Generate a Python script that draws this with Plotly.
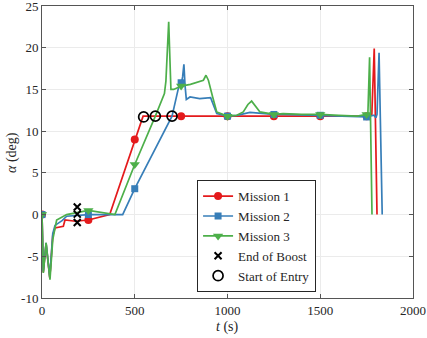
import plotly.graph_objects as go

# Mission 1 angle of attack history
t_m1 = [0, 3, 7, 22, 42, 58, 70, 115, 124, 180, 250, 365, 500, 545, 750, 1000, 1250,
        1500, 1750, 1778, 1791, 1806]
a_m1 = [0, -3.0, -6.9, -3.5, -7.6, -2.5, -1.6, -1.4, -0.65, -0.8, -0.65, 0, 9.0, 11.8,
        11.8, 11.8, 11.8, 11.8, 11.8, 12.0, 19.9, 0]

# Mission 2
t_m2 = [0, 3, 7, 22, 42, 58, 70, 110, 133, 250, 435, 500, 701, 740, 752, 758, 765, 771,
        778, 798, 850, 909, 942, 1000, 1050, 1121, 1200, 1250, 1300, 1500, 1700, 1750,
        1790, 1800, 1806, 1817, 1834]
a_m2 = [0, -3.0, -6.8, -3.4, -7.5, -2.3, -1.3, -0.7, -0.2, 0, 0, 3.1, 11.8, 15.6, 15.8,
        16.5, 18.0, 15.5, 13.8, 14.1, 13.9, 14.0, 12.1, 11.8, 11.9, 12.25, 12.1, 12.0,
        12.0, 11.9, 11.8, 11.7, 11.9, 11.6, 12.0, 19.4, 0]

# Mission 3
t_m3 = [0, 3, 7, 22, 43, 58, 70, 79, 133, 187, 250, 393, 500, 611, 660, 668, 676, 683,
        689, 695, 710, 750, 800, 870, 884, 897, 920, 942, 1000, 1050, 1085, 1110, 1130,
        1150, 1175, 1250, 1300, 1400, 1500, 1600, 1700, 1750, 1757, 1766, 1779]
a_m3 = [0, -3.2, -7.0, -3.4, -7.8, -3.0, -1.85, -0.65, 0, 0.25, 0.5, 0, 6.0, 11.8, 14.5,
        16.0, 19.5, 23.1, 19.0, 15.0, 15.0, 15.4, 15.6, 16.1, 16.7, 16.1, 14.1, 12.3,
        11.8, 11.9, 12.3, 13.2, 13.6, 13.0, 12.3, 12.0, 12.1, 12.0, 12.0, 11.9, 11.8,
        12.0, 12.2, 18.85, 0]

# marker samples every 250 s
t_mk = [0, 250, 500, 750, 1000, 1250, 1500, 1750]
mk_m1 = [0, -0.65, 9.0, 11.8, 11.8, 11.8, 11.8, 11.8]
mk_m2 = [0, 0, 3.1, 15.8, 11.8, 12.0, 11.9, 11.7]
mk_m3 = [0, 0.5, 6.0, 15.4, 11.8, 12.0, 12.0, 12.0]

# events
t_boost = [190, 190, 190]
a_boost = [0.9, 0.05, -0.95]
t_entry = [548, 611, 701]
a_entry = [11.7, 11.8, 11.8]

y_ticks = [-10, -5, 0, 5, 10, 15, 20, 25]
y_ticktext = ["-10", "-5", "0", "5", "10", "15", "20", "25"]
x_ticks = [0, 500, 1000, 1500, 2000]

names = ["Mission 1", "Mission 2", "Mission 3"]
colors = ["#e41a1c", "#377eb8", "#4daf4a"]
symbols = ["circle", "square", "triangle-down"]
sizes = [8, 7, 9]
lines_t = [t_m1, t_m2, t_m3]
lines_a = [a_m1, a_m2, a_m3]
marks_a = [mk_m1, mk_m2, mk_m3]

SERIF = "Liberation Serif, Times New Roman, serif"

fig = go.Figure()

for i in range(3):
    fig.add_trace(go.Scatter(x=lines_t[i], y=lines_a[i], mode="lines",
                             line=dict(color=colors[i], width=1.7), showlegend=False))
    fig.add_trace(go.Scatter(x=t_mk, y=marks_a[i], mode="markers",
                             marker=dict(color=colors[i], symbol=symbols[i], size=sizes[i]),
                             showlegend=False))

fig.add_trace(go.Scatter(x=t_boost, y=a_boost, mode="markers", showlegend=False,
                         marker=dict(symbol="x-thin", size=7,
                                     line=dict(color="black", width=2))))
fig.add_trace(go.Scatter(x=t_entry, y=a_entry, mode="markers", showlegend=False,
                         marker=dict(symbol="circle-open", size=10, color="black",
                                     line=dict(color="black", width=1.7))))

# legend entries
for i in range(3):
    fig.add_trace(go.Scatter(x=[None], y=[None], mode="lines+markers", name=names[i],
                             line=dict(color=colors[i], width=1.7),
                             marker=dict(color=colors[i], symbol=symbols[i], size=sizes[i])))
fig.add_trace(go.Scatter(x=[None], y=[None], mode="markers", name="End of Boost",
                         marker=dict(symbol="x-thin", size=7,
                                     line=dict(color="black", width=2))))
fig.add_trace(go.Scatter(x=[None], y=[None], mode="markers", name="Start of Entry",
                         marker=dict(symbol="circle-open", size=10, color="black",
                                     line=dict(color="black", width=1.7))))

axis_style = dict(showgrid=True, gridcolor="#ebebeb", gridwidth=1, zeroline=False,
                  showline=True, linecolor="#555555", linewidth=1, mirror="ticks",
                  ticks="inside", ticklen=4, tickcolor="#555555", automargin=False,
                  ticklabeloverflow="allow",
                  tickfont=dict(family=SERIF, size=13, color="#262626"))

fig.update_layout(
    width=427, height=338,
    margin=dict(l=42, r=14, t=6, b=40),
    paper_bgcolor="white", plot_bgcolor="white",
    font=dict(family=SERIF, size=13, color="#262626"),
    xaxis=dict(range=[0, 2000], tickvals=x_ticks, **axis_style),
    yaxis=dict(range=[-10, 25], tickvals=y_ticks, ticktext=y_ticktext, **axis_style),
    legend=dict(x=0.418, y=0.02, xanchor="left", yanchor="bottom",
                bordercolor="#262626", borderwidth=1, bgcolor="white",
                font=dict(family=SERIF, size=13), tracegroupgap=0),
    annotations=[
        dict(text="<i>t</i> (s)", xref="paper", yref="paper", x=0.5, y=-0.1,
             xanchor="center", yanchor="middle", showarrow=False,
             font=dict(family=SERIF, size=14)),
        dict(text="<i>α</i> (deg)", xref="paper", yref="paper", x=-0.081, y=0.5,
             xanchor="center", yanchor="middle", showarrow=False, textangle=-90,
             font=dict(family=SERIF, size=14)),
    ],
)

fig.write_html("out.html", config={"displayModeBar": False},
               post_script="document.body.style.margin='0';")
